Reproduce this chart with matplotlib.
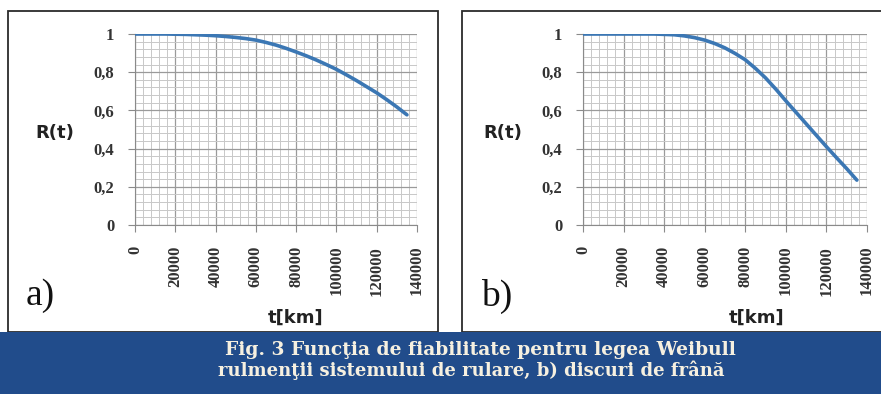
import numpy as np
import matplotlib
matplotlib.use("Agg")
import matplotlib.pyplot as plt
from matplotlib.patches import Rectangle
from matplotlib.ticker import MultipleLocator

# data
t_km = [0, 5000, 10000, 15000, 20000, 25000, 30000, 35000, 40000, 45000,
        50000, 55000, 60000, 65000, 70000, 75000, 80000, 85000, 90000,
        95000, 100000, 105000, 110000, 115000, 120000, 125000, 130000, 135000]
r_bearings = [1.0, 1.0, 1.0, 1.0, 0.999, 0.998, 0.996, 0.994, 0.991, 0.987,
              0.982, 0.976, 0.968, 0.956, 0.942, 0.925, 0.906, 0.886, 0.864,
              0.84, 0.815, 0.786, 0.756, 0.724, 0.692, 0.656, 0.618, 0.577]
r_discs = [1.0, 1.0, 1.0, 1.0, 1.0, 1.0, 1.0, 1.0, 0.998, 0.996,
           0.99, 0.981, 0.968, 0.95, 0.927, 0.898, 0.865, 0.82, 0.77,
           0.712, 0.65, 0.59, 0.53, 0.47, 0.41, 0.352, 0.295, 0.235]

x_ticks = [0, 20000, 40000, 60000, 80000, 100000, 120000, 140000]
y_ticks = [0, 0.2, 0.4, 0.6, 0.8, 1.0]
y_labels = ["0", "0,2", "0,4", "0,6", "0,8", "1"]
panel_tags = ["a)", "b)"]
caption = ["Fig. 3 Funcţia de fiabilitate pentru legea Weibull",
           "rulmenţii sistemului de rulare, b) discuri de frână"]

W, H = 881, 394
fig = plt.figure(figsize=(W / 100, H / 100), dpi=100)
fig.patch.set_facecolor("white")

def fx(px):
    return px / W

def fy(py):
    return 1 - py / H

# panel frames
for x0, x1 in [(8, 438), (462, 884)]:
    fig.patches.append(Rectangle((fx(x0), fy(332)), fx(x1 - x0), (332 - 11) / H,
                                 transform=fig.transFigure, fill=False,
                                 edgecolor="#2b2b2b", linewidth=1.3, zorder=0))

# caption band
fig.patches.append(Rectangle((0, 0), 1, (H - 332) / H, transform=fig.transFigure,
                             facecolor="#214c8b", edgecolor="none", zorder=1))
fig.text(fx(480), fy(350), caption[0], ha="center", va="center", color="#f6f0e0",
         fontsize=13.4, fontweight="bold", family="DejaVu Serif")
fig.text(fx(471), fy(370), caption[1], ha="center", va="center", color="#f6f0e0",
         fontsize=13.0, fontweight="bold", family="DejaVu Serif")

panels = [
    (135, 417, r_bearings, 296, 40),
    (583, 867, r_discs, 757, 497),
]

for i, (left, right, r, xlab_x, tag_x) in enumerate(panels):
    ax = fig.add_axes([fx(left), fy(225), fx(right - left), (225 - 34) / H])
    ax.plot(t_km, r, color="#3b77b4", linewidth=2.6, solid_capstyle="round",
            solid_joinstyle="round", zorder=3)
    ax.set_xlim(0, 140000)
    ax.set_ylim(0, 1)
    ax.set_xticks(x_ticks)
    ax.set_xticklabels([str(v) for v in x_ticks], rotation=90,
                       family="Liberation Serif", fontweight="bold",
                       fontsize=12, color="#333333")
    ax.set_yticks(y_ticks)
    ax.set_yticklabels(y_labels, family="Liberation Serif", fontweight="bold",
                       fontsize=12, color="#333333")
    ax.xaxis.set_minor_locator(MultipleLocator(4000))
    ax.yaxis.set_minor_locator(MultipleLocator(0.04))
    ax.grid(which="major", color="#9a9a9a", linewidth=0.9)
    ax.grid(which="minor", color="#c8c8c8", linewidth=0.7)
    ax.tick_params(which="minor", length=0)
    ax.tick_params(which="major", length=5, color="#8a8a8a", pad=10)
    for s in ["top", "right"]:
        ax.spines[s].set_visible(False)
    for s in ["left", "bottom"]:
        ax.spines[s].set_color("#8a8a8a")
    ax.set_axisbelow(True)

    fig.text(fx(left - 80), fy(133), "R(t)", ha="center", va="center",
             fontsize=13, fontweight="bold", family="DejaVu Sans",
             color="#222222")
    fig.text(fx(xlab_x), fy(318), "t[km]", ha="center", va="center",
             fontsize=13, fontweight="bold", family="DejaVu Sans",
             color="#222222")
    fig.text(fx(tag_x), fy(296), panel_tags[i], ha="center", va="center",
             fontsize=27, family="Liberation Serif", color="#111111")

fig.savefig("out.png", dpi=100)
